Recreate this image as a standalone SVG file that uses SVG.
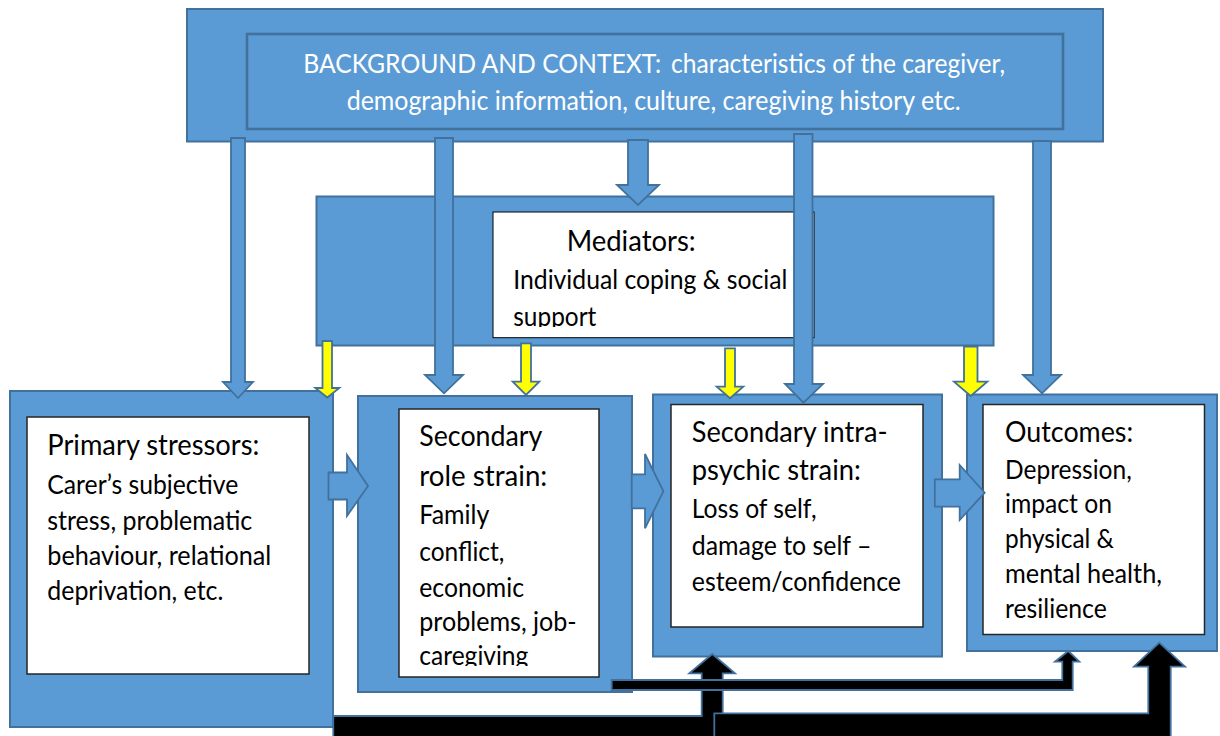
<svg xmlns="http://www.w3.org/2000/svg" width="1220" height="736" viewBox="0 0 1220 736">
<style>
  .blue{fill:#5B9BD5;stroke:#41719C;stroke-width:2}
  .inner{fill:#5B9BD5;stroke:#41719C;stroke-width:2.6}
  .white{fill:#FFFFFF;stroke:#262626;stroke-width:1.5}
  .arr{fill:#5B9BD5;stroke:#41719C;stroke-width:1.8;stroke-linejoin:miter}
  .yel{fill:#FFFF00;stroke:#41719C;stroke-width:1.8}
  .blk{fill:#000000;stroke:#41719C;stroke-width:1.8}
  text{font-family:Lato,"Liberation Sans",sans-serif;}
  .h{font-size:29.3px;fill:#000}
  .b{font-size:26.7px;fill:#000}
  .hw{font-size:27.6px;fill:#FFFFFF}
  .bw{font-size:26.7px;fill:#FFFFFF}
</style>
<defs>
  <clipPath id="clipMed"><rect x="493" y="212" width="321" height="115"/></clipPath>
  <clipPath id="clipRole"><rect x="399" y="409" width="200" height="257"/></clipPath>
</defs>
<rect width="1220" height="736" fill="#FFFFFF"/>

<g id="background">
  <rect class="blue" x="187" y="9" width="916" height="132.5"/>
  <rect class="inner" x="247" y="34" width="816" height="95"/>
  <text class="hw" x="303.3" y="72.5" textLength="358" lengthAdjust="spacingAndGlyphs">BACKGROUND AND CONTEXT:</text>
  <text class="bw" x="671" y="72.5" textLength="334" lengthAdjust="spacingAndGlyphs">characteristics of the caregiver,</text>
  <text class="bw" x="346.7" y="110" textLength="614" lengthAdjust="spacingAndGlyphs">demographic information, culture, caregiving history etc.</text>
</g>

<g id="mediators">
  <rect class="blue" x="316.5" y="196.5" width="677" height="149"/>
  <rect x="493" y="212" width="321" height="125.7" fill="#FFFFFF" stroke="#000" stroke-width="1"/>
  <g clip-path="url(#clipMed)">
    <text class="h" x="566.7" y="251" textLength="129" lengthAdjust="spacingAndGlyphs">Mediators:</text>
    <text class="b" x="513.3" y="289" textLength="274" lengthAdjust="spacingAndGlyphs">Individual coping &amp; social</text>
    <text class="b" x="513.3" y="325.5" textLength="83" lengthAdjust="spacingAndGlyphs">support</text>
  </g>
</g>

<g id="primary">
  <rect class="blue" x="10" y="391" width="323" height="336"/>
  <rect class="white" x="27" y="417" width="282" height="257"/>
  <text class="h" x="47.3" y="454.5" textLength="212" lengthAdjust="spacingAndGlyphs">Primary stressors:</text>
  <text class="b" x="47.3" y="494" textLength="191" lengthAdjust="spacingAndGlyphs">Carer’s subjective</text>
  <text class="b" x="47.3" y="530" textLength="205" lengthAdjust="spacingAndGlyphs">stress, problematic</text>
  <text class="b" x="47.3" y="565" textLength="224" lengthAdjust="spacingAndGlyphs">behaviour, relational</text>
  <text class="b" x="47.3" y="600" textLength="176" lengthAdjust="spacingAndGlyphs">deprivation, etc.</text>
</g>

<g id="role">
  <rect class="blue" x="358" y="396" width="274" height="296"/>
  <rect class="white" x="399" y="409" width="200" height="268"/>
  <g clip-path="url(#clipRole)">
    <text class="h" x="419.3" y="445.7" textLength="123" lengthAdjust="spacingAndGlyphs">Secondary</text>
    <text class="h" x="419.3" y="485.5" textLength="128" lengthAdjust="spacingAndGlyphs">role strain:</text>
    <text class="b" x="419.3" y="523.5" textLength="70" lengthAdjust="spacingAndGlyphs">Family</text>
    <text class="b" x="419.3" y="560.5" textLength="85" lengthAdjust="spacingAndGlyphs">conflict,</text>
    <text class="b" x="419.3" y="596.5" textLength="104.7" lengthAdjust="spacingAndGlyphs">economic</text>
    <text class="b" x="419.3" y="631" textLength="157.4" lengthAdjust="spacingAndGlyphs">problems, job-</text>
    <text class="b" x="419.3" y="665" textLength="109" lengthAdjust="spacingAndGlyphs">caregiving</text>
  </g>
</g>

<g id="intrapsychic">
  <rect class="blue" x="653" y="394.5" width="289" height="262"/>
  <rect class="white" x="671" y="404.5" width="252" height="222.5"/>
  <text class="h" x="691.8" y="442.3" textLength="195.8" lengthAdjust="spacingAndGlyphs">Secondary intra-</text>
  <text class="h" x="691.8" y="480" textLength="169" lengthAdjust="spacingAndGlyphs">psychic strain:</text>
  <text class="b" x="691.8" y="518.3" textLength="124.7" lengthAdjust="spacingAndGlyphs">Loss of self,</text>
  <text class="b" x="691.8" y="555" textLength="179.6" lengthAdjust="spacingAndGlyphs">damage to self –</text>
  <text class="b" x="691.8" y="590.7" textLength="209.2" lengthAdjust="spacingAndGlyphs">esteem/confidence</text>
</g>

<g id="outcomes">
  <rect class="blue" x="967" y="394.5" width="250" height="256.5"/>
  <rect class="white" x="983" y="404.5" width="221.5" height="230"/>
  <text class="h" x="1005" y="441.7" textLength="128.2" lengthAdjust="spacingAndGlyphs">Outcomes:</text>
  <text class="b" x="1005" y="479" textLength="126.7" lengthAdjust="spacingAndGlyphs">Depression,</text>
  <text class="b" x="1005" y="513.3" textLength="107" lengthAdjust="spacingAndGlyphs">impact on</text>
  <text class="b" x="1005" y="548.3" textLength="109" lengthAdjust="spacingAndGlyphs">physical &amp;</text>
  <text class="b" x="1005" y="583.3" textLength="157" lengthAdjust="spacingAndGlyphs">mental health,</text>
  <text class="b" x="1005" y="618.3" textLength="101.8" lengthAdjust="spacingAndGlyphs">resilience</text>
</g>

<g id="connectors">
  <polygon class="arr" points="231,138 245,138 245,382 253,382 238,398 223,382 231,382"/>
  <polygon class="arr" points="435,138 453,138 453,375 463,375 444,393.3 425,375 435,375"/>
  <polygon class="arr" points="628,140 648,140 648,185 659,185 638,205 617,185 628,185"/>
  <polygon class="arr" points="794,134 812.5,134 812.5,384 823,384 803.5,402.7 785,384 794,384"/>
  <polygon class="arr" points="1033,141 1051,141 1051,375 1061,375 1042,393.3 1023,375 1033,375"/>
  <polygon class="yel" points="322.5,341 332,341 332,388 339.3,388 327.3,397.5 315.3,388 322.5,388"/>
  <polygon class="yel" points="521,343.3 531,343.3 531,381.7 539.3,381.7 526,395 512.7,381.7 521,381.7"/>
  <polygon class="yel" points="725,348.3 735,348.3 735,386.7 743.3,386.7 730,398.3 716.7,386.7 725,386.7"/>
  <polygon class="yel" points="964,346.7 977.5,346.7 977.5,381.7 987.3,381.7 970.7,396 954,381.7 964,381.7"/>
  <polygon class="arr" points="328.5,472.5 347,472.5 347,455 368,486 347,516 347,499.5 328.5,499.5"/>
  <polygon class="arr" points="631.7,474.3 645,474.3 645,454 663.4,491.3 645,528.3 645,508.3 631.7,508.3"/>
  <polygon class="arr" points="934.8,479.3 959.7,479.3 959.7,465 984.7,492.7 959.7,520 959.7,506.7 934.8,506.7"/>
  <polygon class="blk" points="333.3,716 701.7,716 701.7,673.3 689.3,673.3 712.3,654 735,673.3 722.7,673.3 722.7,745 333.3,745"/>
  <polygon class="blk" points="611.7,680 1062.3,680 1062.3,661.7 1055,661.7 1068.3,651 1079.3,661.7 1072.7,661.7 1072.7,690 611.7,690"/>
  <polygon class="blk" points="714.3,713.3 1148.3,713.3 1148.3,666.7 1134,666.7 1159.3,642.7 1185,666.7 1170.7,666.7 1170.7,745 714.3,745"/>
</g>
</svg>
